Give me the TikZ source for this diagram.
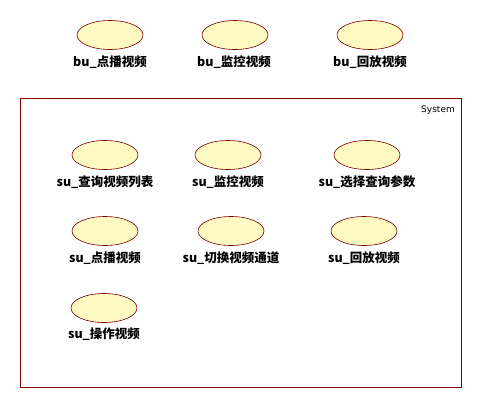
\documentclass[tikz,border=0pt]{standalone}
\usepackage{fontspec}
\setmainfont{DejaVu Sans}
\newfontfamily\cjk{Noto Sans CJK SC}
\usetikzlibrary{shapes.geometric}
\definecolor{ucfill}{RGB}{255,249,194}
\definecolor{ucline}{RGB}{128,0,0}
\begin{document}
\begin{tikzpicture}[x=1pt,y=-1pt,
  usecase/.style={ellipse,draw=ucline,fill=ucfill,line width=0.6pt,minimum width=66pt,minimum height=29pt,inner sep=0pt},
  uclabel/.style={font=\cjk\bfseries\fontsize{12.5}{13}\selectfont,inner sep=0pt,anchor=center}]
\useasboundingbox (0,0) rectangle (480,408);
\fill[white] (0,0) rectangle (480,408);
% system boundary
\node[draw=ucline,line width=0.8pt,minimum width=441pt,minimum height=289pt,inner sep=0pt,anchor=north west] (sys) at (20,98) {};
\node[font=\fontsize{9}{10}\selectfont,anchor=north east,inner sep=0pt] (systxt) at (455,106) {System};
% top row
\node[usecase] (b1) at (110,35) {};
\node[uclabel] (b1l) at (110,62) {bu\_点播视频};
\node[usecase] (b2) at (235,35) {};
\node[uclabel] (b2l) at (234,62) {bu\_监控视频};
\node[usecase] (b3) at (370,35) {};
\node[uclabel] (b3l) at (370,62) {bu\_回放视频};
% system row 1
\node[usecase] (s1) at (105,155) {};
\node[uclabel] (s1l) at (105,182) {su\_查询视频列表};
\node[usecase] (s2) at (228,155) {};
\node[uclabel] (s2l) at (228,182) {su\_监控视频};
\node[usecase] (s3) at (367,155) {};
\node[uclabel] (s3l) at (367,182) {su\_选择查询参数};
% system row 2
\node[usecase] (s4) at (105,231) {};
\node[uclabel] (s4l) at (105,258) {su\_点播视频};
\node[usecase] (s5) at (231,231) {};
\node[uclabel] (s5l) at (231,258) {su\_切换视频通道};
\node[usecase] (s6) at (364,231) {};
\node[uclabel] (s6l) at (364,258) {su\_回放视频};
% system row 3
\node[usecase] (s7) at (104,308) {};
\node[uclabel] (s7l) at (104,334) {su\_操作视频};
\end{tikzpicture}
\end{document}
